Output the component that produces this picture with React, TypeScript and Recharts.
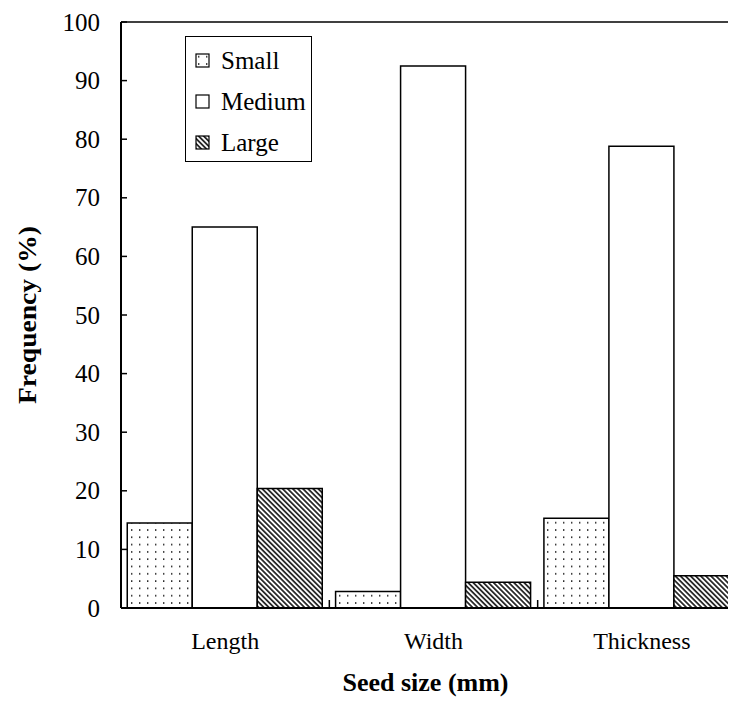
import React from "react";
import { BarChart, Bar, XAxis, YAxis, Legend, ReferenceLine } from "recharts";

const categories = ["Length", "Width", "Thickness"];
const smallValues = [14.5, 2.8, 15.3];
const mediumValues = [65, 92.5, 78.8];
const largeValues = [20.4, 4.4, 5.5];
const yTicks = [0, 10, 20, 30, 40, 50, 60, 70, 80, 90, 100];
const seriesKeys = ["small", "medium", "large"];
const seriesNames: Record<string, string> = { small: "Small", medium: "Medium", large: "Large" };

const data = categories.map((c, i) => ({
  name: c,
  small: smallValues[i],
  medium: mediumValues[i],
  large: largeValues[i],
}));

const FONT = "Liberation Serif";
const CHART_W = 760;
const CHART_H = 699;
const M_TOP = 14;
const M_RIGHT = 22;
const Y_W = 113;
const X_H = 99;
const PLOT_W = CHART_W - Y_W - M_RIGHT;
const BAND = PLOT_W / categories.length;

const fills: Record<string, string> = {
  small: "url(#dots)",
  medium: "#ffffff",
  large: "url(#hatch)",
};

const Patterns = ({ suffix = "" }: { suffix?: string }) => (
  <defs>
    <pattern id={"dots" + suffix} patternUnits="userSpaceOnUse" width="8" height="7.3">
      <rect x="0" y="0" width="8" height="7.3" fill="#fff" />
      <rect x="3" y="3" width="1.4" height="1.4" fill="#000" />
    </pattern>
    <pattern id={"hatch" + suffix} patternUnits="userSpaceOnUse" width="3.6" height="3.6" patternTransform="rotate(45)">
      <rect x="0" y="0" width="3.6" height="3.6" fill="#fff" />
      <line x1="0" y1="1.8" x2="3.6" y2="1.8" stroke="#000" strokeWidth="1.5" />
    </pattern>
  </defs>
);

const YTick = (props: any) => {
  const { x, y, payload } = props;
  return (
    <g>
      <line x1={x} y1={y} x2={x + 6} y2={y} stroke="#000" strokeWidth={1.5} />
      <text x={x - 21} y={y} dy="0.34em" textAnchor="end" fontFamily={FONT} fontSize={25} fill="#000">
        {payload.value}
      </text>
    </g>
  );
};

const XTick = (props: any) => {
  const { x, y, payload, index } = props;
  return (
    <g>
      {index > 0 && (
        <line x1={x - BAND / 2} y1={y} x2={x - BAND / 2} y2={y - 8} stroke="#000" strokeWidth={1.5} />
      )}
      <text x={x} y={y + 41} textAnchor="middle" fontFamily={FONT} fontSize={24} fill="#000">
        {payload.value}
      </text>
    </g>
  );
};

const YTitle = (props: any) => {
  const { viewBox } = props;
  const cx = 19;
  const cy = viewBox.y + viewBox.height / 2;
  return (
    <text x={cx} y={cy} transform={`rotate(-90 ${cx} ${cy})`} dy="0.35em" textAnchor="middle"
      fontFamily={FONT} fontSize={25} fontWeight="bold" fill="#000" textLength={178} lengthAdjust="spacingAndGlyphs">
      Frequency (%)
    </text>
  );
};

const XTitle = (props: any) => {
  const { viewBox } = props;
  const cx = viewBox.x + viewBox.width / 2 - 8;
  return (
    <text x={cx} y={viewBox.y + 83} textAnchor="middle" fontFamily={FONT} fontSize={25} fontWeight="bold" fill="#000"
      textLength={166} lengthAdjust="spacingAndGlyphs">
      Seed size (mm)
    </text>
  );
};

const LegendContent = (props: any) => {
  const { payload } = props;
  const items = [...(payload || [])].sort(
    (a: any, b: any) => seriesKeys.indexOf(a.dataKey) - seriesKeys.indexOf(b.dataKey)
  );
  return (
    <div style={{ width: 127, height: 126, border: "1.5px solid #000", boxSizing: "border-box", background: "#fff", position: "relative" }}>
      {items.map((entry: any, i: number) => (
        <div key={i} style={{ position: "absolute", left: 9, top: 11 + i * 41, height: 26, display: "flex", alignItems: "center" }}>
          <svg width={16} height={16} style={{ display: "block" }}>
            <Patterns suffix="L" />
            <rect x={1} y={1} width={13} height={13} fill={fills[entry.dataKey].replace(")", "L)")} stroke="#000" strokeWidth={1.2} />
          </svg>
          <span style={{ marginLeft: 10, fontFamily: FONT, fontSize: 25, color: "#000", lineHeight: "26px" }}>{entry.value}</span>
        </div>
      ))}
    </div>
  );
};

export default function App() {
  return (
    <div style={{ width: 728, height: 699, overflow: "hidden", position: "relative" }}>
      <BarChart
        width={CHART_W}
        height={CHART_H}
        data={data}
        margin={{ top: M_TOP, right: M_RIGHT, bottom: 0, left: 0 }}
        barCategoryGap="3%"
        barGap={0}
      >
        <Patterns />
        <XAxis
          dataKey="name"
          height={X_H}
          tickLine={false}
          tickSize={0}
          tickMargin={0}
          tick={<XTick />}
          axisLine={{ stroke: "#000", strokeWidth: 2 }}
          label={<XTitle />}
        />
        <YAxis
          width={Y_W}
          domain={[0, 100]}
          ticks={yTicks}
          tickLine={false}
          tickSize={0}
          tickMargin={0}
          tick={<YTick />}
          axisLine={{ stroke: "#000", strokeWidth: 2 }}
          label={<YTitle />}
          interval={0}
        />
        <ReferenceLine y={100} stroke="#000" strokeWidth={1.5} />
        <Legend
          layout="vertical"
          align="center"
          verticalAlign="middle"
          wrapperStyle={{ left: 177, top: 28, width: 127, height: 126 }}
          content={<LegendContent />}
        />
        <Bar dataKey="small" name={seriesNames.small} fill={fills.small} stroke="#000" strokeWidth={1.5} isAnimationActive={false} />
        <Bar dataKey="medium" name={seriesNames.medium} fill={fills.medium} stroke="#000" strokeWidth={1.5} isAnimationActive={false} />
        <Bar dataKey="large" name={seriesNames.large} fill={fills.large} stroke="#000" strokeWidth={1.5} isAnimationActive={false} />
      </BarChart>
    </div>
  );
}
